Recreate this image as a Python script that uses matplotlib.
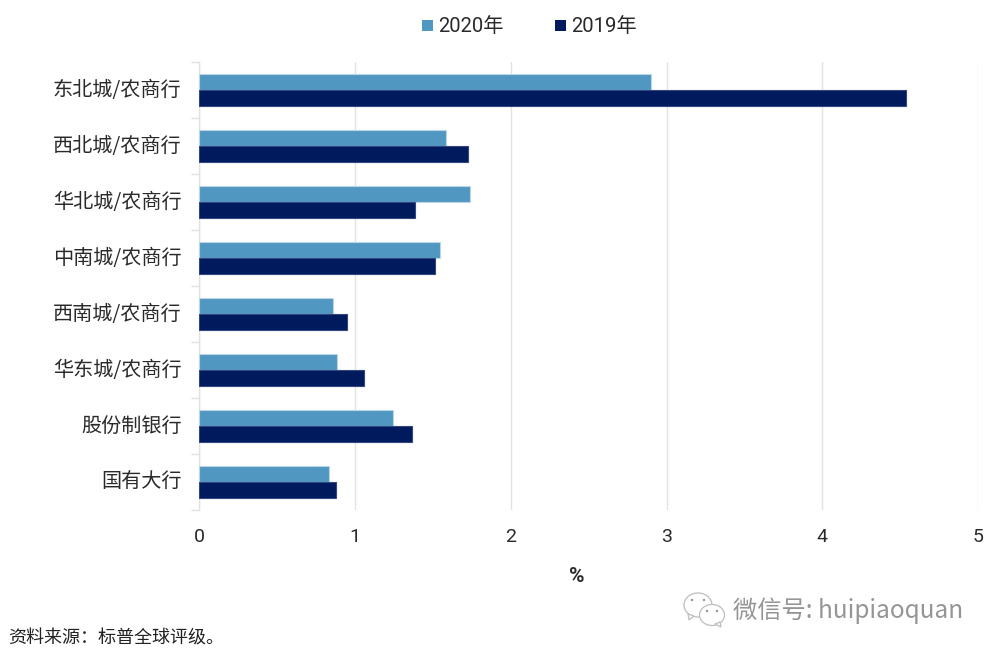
import matplotlib
matplotlib.use("Agg")
import matplotlib.pyplot as plt
import matplotlib.transforms as mtransforms
import numpy as np
from matplotlib.patches import Ellipse, Polygon

# ---------------------------------------------------------------------------
# Data (top to bottom)
# ---------------------------------------------------------------------------
CATEGORIES = ["东北城/农商行", "西北城/农商行", "华北城/农商行", "中南城/农商行",
              "西南城/农商行", "华东城/农商行", "股份制银行", "国有大行"]
VALUES_2020 = [2.90, 1.585, 1.735, 1.545, 0.86, 0.88, 1.24, 0.83]
VALUES_2019 = [4.54, 1.725, 1.385, 1.515, 0.95, 1.055, 1.365, 0.875]
SERIES_NAMES = ["2020年", "2019年"]
X_TICKS = [0, 1, 2, 3, 4, 5]

COLOR_2020 = "#5097C1"
COLOR_2019 = "#001A5E"
GRID = "#E2E2E2"
TEXT = "#2A2A2A"
CJK = ["Noto Sans CJK SC", "DejaVu Sans"]
NUM = ["Roboto", "Noto Sans CJK SC"]

W, H = 995, 656
fig = plt.figure(figsize=(W / 100, H / 100), dpi=100)
ax = fig.add_axes([199.5 / W, 1 - 510 / H, (978 - 199.5) / W, (510 - 62) / H])

y = np.arange(len(CATEGORIES))
bar_h = 0.285
ax.barh(y - bar_h / 2, VALUES_2020, bar_h, color=COLOR_2020, edgecolor="#BCD6E6",
        linewidth=0.8, zorder=3)
ax.barh(y + bar_h / 2, VALUES_2019, bar_h, color=COLOR_2019, edgecolor="#33477F",
        linewidth=0.8, zorder=3)

ax.set_xlim(0, 5)
ax.set_ylim(len(CATEGORIES) - 0.5, -0.5)

ax.set_xticks(X_TICKS)
ax.set_xticklabels([str(v) for v in X_TICKS], family=NUM, fontsize=14,
                   color=TEXT)
ax.tick_params(axis="x", length=0, pad=13)
ax.grid(axis="x", color=GRID, linewidth=1.0, zorder=0)
ax.set_axisbelow(True)

# category labels sit at the centres, tick marks at the boundaries
ax.set_yticks(np.arange(len(CATEGORIES) + 1) - 0.5)
ax.set_yticklabels([])
ax.tick_params(axis="y", which="major", length=6, width=1.0, color=GRID)
ax.set_yticks(y, minor=True)
ax.set_yticklabels(CATEGORIES, minor=True, family=CJK, fontsize=14.5, color=TEXT)
ax.tick_params(axis="y", which="minor", length=0, pad=13)
nudge = mtransforms.ScaledTranslation(0, 2 / 100, fig.dpi_scale_trans)
for lab in ax.get_yticklabels(minor=True):
    lab.set_transform(lab.get_transform() + nudge)

for side in ["top", "right", "bottom"]:
    ax.spines[side].set_visible(False)
ax.spines["left"].set_color(GRID)
ax.spines["left"].set_linewidth(1.0)

# x axis unit
fig.text(577 / W, 1 - 577 / H, "%", family=NUM, fontsize=15, fontweight="bold",
         color=TEXT, ha="center", va="center")

# legend, placed by hand to match the original spacing
leg_ax = fig.add_axes([0, 0, 1, 1], facecolor="none")
leg_ax.set_xlim(0, W)
leg_ax.set_ylim(H, 0)
leg_ax.axis("off")
for name, color, x0 in zip(SERIES_NAMES, [COLOR_2020, COLOR_2019], [422, 555]):
    leg_ax.add_patch(plt.Rectangle((x0, 20), 11, 11, color=color, lw=0))
    leg_ax.text(x0 + 16, 26, name, family=NUM, fontsize=14.6,
                color=TEXT, ha="left", va="center")

# source note
fig.text(8 / W, 1 - 639 / H, "资料来源：标普全球评级。", family=CJK, fontsize=13,
         style="italic", color="#222222", ha="left", va="center")

# watermark
wm_edge = "#BDBDBD"
leg_ax.add_patch(Ellipse((698, 605), 28, 24, fc="white", ec=wm_edge, lw=0.9))
leg_ax.add_patch(Polygon([[688, 614], [689, 620], [694, 616]], fc="white", ec=wm_edge, lw=0.9))
leg_ax.add_patch(Ellipse((712, 615), 25, 21, fc="white", ec=wm_edge, lw=0.9))
leg_ax.add_patch(Polygon([[715, 624], [721, 627], [720, 622]], fc="white", ec=wm_edge, lw=0.9))
for ex, ey in [(692, 600), (704, 600), (707, 611), (717, 611)]:
    leg_ax.add_patch(Ellipse((ex, ey), 2.5, 2.5, fc="#9A9A9A", ec="none"))
leg_ax.text(733, 611, "微信号: huipiaoquan", family=["Noto Sans CJK SC", "DejaVu Sans"],
            fontsize=17.5, color="#8A8A8A", ha="left", va="center", alpha=0.9)

fig.savefig("out.png", dpi=100)
plt.close(fig)
